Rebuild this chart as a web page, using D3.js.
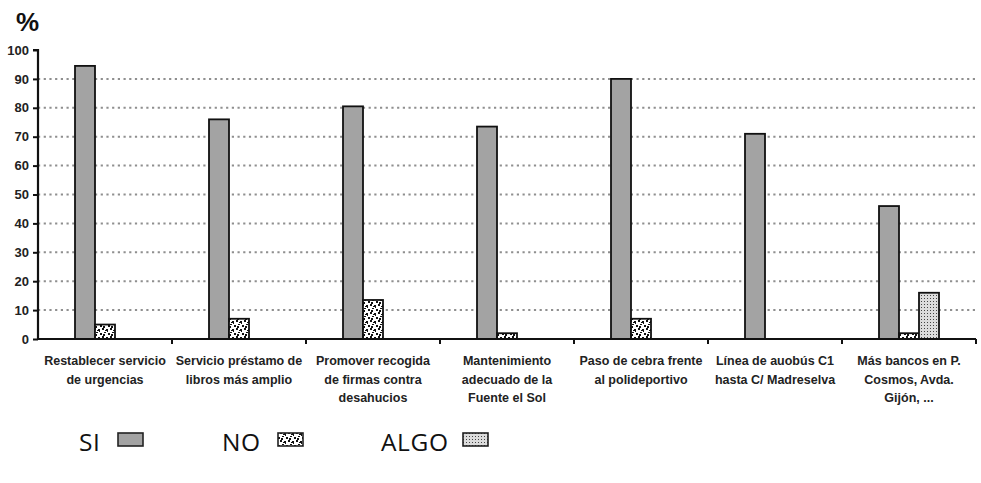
<!DOCTYPE html>
<html>
<head>
<meta charset="utf-8">
<script src="https://cdn.jsdelivr.net/npm/d3@7"></script>
<style>
  html, body { margin: 0; padding: 0; background: #fff; }
  svg { display: block; }
</style>
</head>
<body>
<svg id="chart" width="981" height="483"></svg>
<script>
const categories = [
  "Restablecer servicio\nde urgencias",
  "Servicio préstamo de\nlibros más amplio",
  "Promover recogida\nde firmas contra\ndesahucios",
  "Mantenimiento\nadecuado de la\nFuente el Sol",
  "Paso de cebra frente\nal polideportivo",
  "Línea de auobús C1\nhasta C/ Madreselva",
  "Más bancos en P.\nCosmos, Avda.\nGijón, ..."
];
const seriesNames = ["SI", "NO", "ALGO"];
const siValues = [94.5, 76, 80.5, 73.5, 90, 71, 46];
const noValues = [5, 7, 13.5, 2, 7, 0, 2];
const algoValues = [0, 0, 0, 0, 0, 0, 16];
const yTicks = [0, 10, 20, 30, 40, 50, 60, 70, 80, 90, 100];
const gridTicks = [10, 20, 30, 40, 50, 60, 70, 80, 90];

(function () {
const seriesValues = { SI: siValues, NO: noValues, ALGO: algoValues };
const rows = categories.map((c, i) => ({
  cat: c,
  vals: seriesNames.map(s => ({ key: s, value: seriesValues[s][i] }))
}));

const svg = d3.select("#chart");
const defs = svg.append("defs");

// NO pattern: confetti-like black blobs on white
const pNo = defs.append("pattern").attr("id", "patNo").attr("patternUnits", "userSpaceOnUse")
  .attr("width", 8).attr("height", 8);
pNo.append("rect").attr("width", 8).attr("height", 8).attr("fill", "#fff");
[[0,0,2,2],[4,1,2,2],[2,4,2,1],[6,5,2,2],[1,6,2,2],[5,3,1,1],[3,2,1,1]].forEach(r => {
  pNo.append("rect").attr("x", r[0]).attr("y", r[1]).attr("width", r[2]).attr("height", r[3]).attr("fill", "#111");
});

// ALGO pattern: fine dots on light grey
const pAlgo = defs.append("pattern").attr("id", "patAlgo").attr("patternUnits", "userSpaceOnUse")
  .attr("width", 3).attr("height", 3);
pAlgo.append("rect").attr("width", 3).attr("height", 3).attr("fill", "#dcdcdc");
pAlgo.append("rect").attr("x", 1).attr("y", 1).attr("width", 1).attr("height", 1).attr("fill", "#444");

const fills = { SI: "#a3a3a3", NO: "url(#patNo)", ALGO: "url(#patAlgo)" };

const pLeft = 38, pRight = 976, pTop = 50, pBottom = 339;

const x0 = d3.scaleBand().domain(categories).range([pLeft, pRight]).padding(0);
const x1 = d3.scaleBand().domain(seriesNames).range([0, x0.bandwidth()])
  .paddingInner(0).paddingOuter(1.85);
const y = d3.scaleLinear().domain([0, 100]).range([pBottom, pTop]);

// gridlines
svg.append("g").selectAll("line").data(gridTicks).join("line")
  .attr("x1", pLeft).attr("x2", pRight)
  .attr("y1", d => y(d)).attr("y2", d => y(d))
  .attr("stroke", "#8f8f8f").attr("stroke-width", 2)
  .attr("stroke-dasharray", "2.2,3.5");

// bars
const groups = svg.append("g").selectAll("g").data(rows).join("g")
  .attr("transform", d => `translate(${x0(d.cat)},0)`);
groups.selectAll("rect").data(d => d.vals.filter(v => v.value > 0)).join("rect")
  .attr("x", d => x1(d.key))
  .attr("width", x1.bandwidth())
  .attr("y", d => y(d.value))
  .attr("height", d => y(0) - y(d.value))
  .attr("fill", d => fills[d.key])
  .attr("stroke", "#111").attr("stroke-width", 1.8);

// y axis
const yAxis = d3.axisLeft(y).tickValues(yTicks).tickSize(5).tickPadding(4).tickFormat(d3.format("d"));
const gy = svg.append("g").attr("transform", `translate(${pLeft},0)`).call(yAxis);
gy.select(".domain").attr("stroke", "#111").attr("stroke-width", 2.2).attr("d", `M-5,${pTop}H0V${pBottom}`);
gy.selectAll(".tick line").attr("stroke", "#111").attr("stroke-width", 2);
gy.selectAll(".tick text").attr("font-family", "Liberation Sans, Arial, sans-serif")
  .attr("font-size", 13).attr("font-weight", "bold").attr("fill", "#222");

// x axis
const boundaries = categories.map(c => x0(c)).concat([pRight]);
const gx = svg.append("g");
gx.append("line").attr("x1", pLeft - 1).attr("x2", pRight).attr("y1", pBottom).attr("y2", pBottom)
  .attr("stroke", "#111").attr("stroke-width", 2.2);
gx.selectAll("line.tk").data(boundaries.slice(1)).join("line").attr("class", "tk")
  .attr("x1", d => d).attr("x2", d => d).attr("y1", pBottom).attr("y2", pBottom + 5)
  .attr("stroke", "#111").attr("stroke-width", 2);

// category labels
const lab = svg.append("g").selectAll("text").data(categories).join("text")
  .attr("x", d => x0(d) + x0.bandwidth() / 2)
  .attr("y", 365)
  .attr("text-anchor", "middle")
  .attr("font-family", "Liberation Sans, Arial, sans-serif")
  .attr("font-size", 12.5).attr("font-weight", "bold").attr("fill", "#222");
lab.selectAll("tspan").data(d => d.split("\n")).join("tspan")
  .attr("x", function() { return d3.select(this.parentNode).attr("x"); })
  .attr("dy", (d, i) => i === 0 ? 0 : 18.5)
  .text(d => d);

// % label
svg.append("text").attr("x", 16).attr("y", 31).text("%")
  .attr("font-family", "Liberation Sans, Arial, sans-serif")
  .attr("font-size", 26).attr("font-weight", "bold").attr("fill", "#111");

// legend
const legendPos = [
  { key: "SI", tx: 79, bx: 118 },
  { key: "NO", tx: 222, bx: 278 },
  { key: "ALGO", tx: 381, bx: 463 }
];
const lg = svg.append("g").selectAll("g").data(legendPos).join("g");
lg.append("text").attr("x", d => d.tx).attr("y", 451).text(d => d.key)
  .attr("font-family", "Open Sans, sans-serif").attr("font-size", 24.5)
  .attr("letter-spacing", 0.6).attr("fill", "#111");
lg.append("rect").attr("x", d => d.bx).attr("y", 433).attr("width", 25).attr("height", 13)
  .attr("fill", d => fills[d.key]).attr("stroke", "#222").attr("stroke-width", 1.6);
})();
</script>
</body>
</html>
